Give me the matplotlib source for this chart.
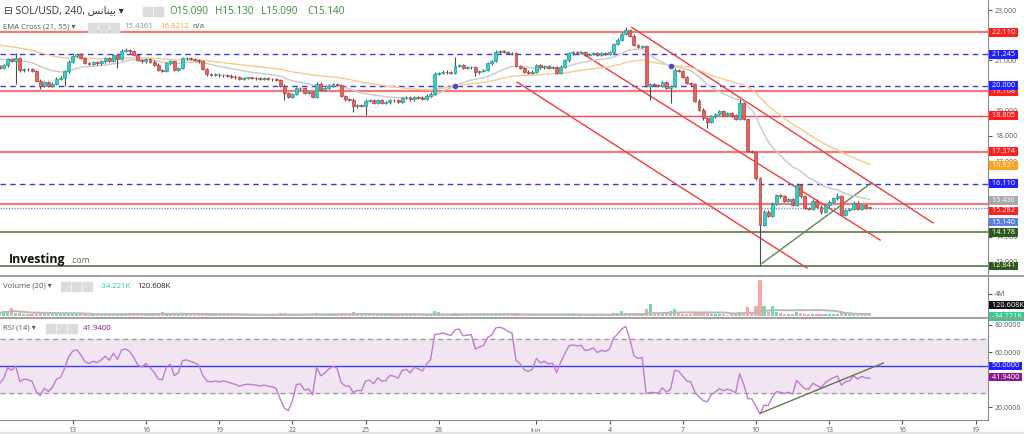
import numpy as np
import pandas as pd
import matplotlib
matplotlib.use('Agg')
import matplotlib.pyplot as plt
import matplotlib.transforms as mtransforms
from matplotlib.lines import Line2D
from matplotlib.patches import Rectangle

plt.rcParams['font.family'] = ['Open Sans', 'DejaVu Sans']

# 4h candles, May 10 00:00 -> Jun 14 16:00 (closes)
first_open = 20.76
closes = [
    20.70, 20.80, 21.05, 20.98, 21.08, 20.60, 20.66, 20.64, 20.58, 20.20,
    19.98, 20.14, 19.99, 20.08, 20.28, 20.32, 20.56, 20.95, 21.18, 21.24,
    21.10, 20.90, 20.85, 20.92, 20.88, 20.96, 21.08, 20.98, 21.20, 21.05,
    21.38, 21.42, 21.36, 21.22, 21.02, 20.96, 21.06, 20.95, 20.83, 20.62,
    20.58, 20.88, 20.98, 20.62, 20.70, 21.08, 21.10, 21.06, 21.02, 20.96,
    20.65, 20.45, 20.42, 20.44, 20.41, 20.43, 20.40, 20.36, 20.33, 20.28,
    20.30, 20.31, 20.30, 20.29, 20.27, 20.28, 20.26, 20.25, 20.22, 20.00,
    19.70, 19.55, 19.66, 19.89, 19.90, 19.72, 19.74, 19.56, 20.08, 19.83,
    19.90, 20.00, 20.06, 20.02, 19.58, 19.45, 19.44, 19.18, 19.22, 19.21,
    19.40, 19.42, 19.30, 19.42, 19.32, 19.33, 19.43, 19.41, 19.36, 19.50,
    19.52, 19.45, 19.55, 19.52, 19.48, 19.60, 19.68, 20.48, 20.50, 20.55,
    20.53, 20.51, 20.77, 20.80, 20.70, 20.72, 20.74, 20.52, 20.58, 20.62,
    20.88, 20.98, 21.32, 21.36, 21.34, 21.30, 21.28, 20.78, 20.70, 20.55,
    20.50, 20.55, 20.82, 20.72, 20.76, 20.70, 20.72, 20.50, 20.75, 21.00,
    21.28, 21.32, 21.30, 21.32, 21.22, 21.25, 21.30, 21.22, 21.28, 21.26,
    21.32, 21.66, 21.82, 22.06, 22.20, 21.98, 21.62, 21.55, 21.58, 20.00,
    20.05, 20.03, 20.00, 20.15, 19.90, 19.98, 20.62, 20.58, 20.35, 20.10,
    20.05, 19.40, 19.05, 18.70, 18.55, 18.78, 18.88, 18.98, 18.85, 18.90,
    18.82, 18.68, 19.30, 18.68, 17.40, 17.36, 16.32, 14.48, 15.00, 14.82,
    15.32, 15.66, 15.60, 15.43, 15.50, 15.26, 16.05, 15.60, 15.14, 15.10,
    15.44, 15.20, 14.98, 15.25, 15.40, 15.52, 15.62, 14.88, 15.06, 15.10,
    15.36, 15.12, 15.25, 15.15, 15.14,
]
# long wicks only; the other candles get a short default wick
wick_highs = {4: 21.28, 30: 21.45, 31: 21.50, 112: 21.15, 122: 21.40, 153: 22.12,
              154: 22.32, 166: 20.70, 182: 19.45, 196: 16.12, 206: 15.72}
wick_lows = {4: 20.06, 10: 19.88, 16: 20.00, 29: 20.70, 70: 19.42, 87: 18.96, 90: 18.83,
             117: 20.38, 160: 19.43, 165: 19.32, 174: 18.32, 187: 12.84, 202: 14.90, 207: 14.85}
# volume in millions
volumes = [
    0.5, 0.9, 0.8, 1.5, 0.6, 0.5, 0.3, 0.3, 0.3, 0.4, 0.5, 0.4,
    0.3, 0.3, 0.4, 0.3, 0.5, 0.6, 0.4, 0.3, 0.3, 0.3, 0.2, 0.3,
    0.2, 0.3, 0.4, 0.3, 0.4, 0.3, 0.5, 0.4, 0.3, 0.4, 0.5, 0.3,
    0.3, 0.3, 0.4, 0.5, 0.8, 0.5, 0.4, 0.3, 0.3, 0.5, 0.3, 0.2,
    0.2, 0.3, 0.4, 0.4, 0.2, 0.2, 0.2, 0.2, 0.2, 0.3, 0.2, 0.2,
    0.2, 0.2, 0.2, 0.2, 0.2, 0.2, 0.2, 0.2, 0.3, 0.5, 0.6, 0.4,
    0.3, 0.4, 0.3, 0.3, 0.2, 0.3, 0.5, 0.3, 0.2, 0.3, 0.3, 0.2,
    0.6, 0.4, 0.3, 0.8, 0.4, 0.3, 0.5, 0.3, 0.2, 0.3, 0.2, 0.2,
    0.2, 0.2, 0.2, 0.3, 0.2, 0.2, 0.3, 0.2, 0.2, 0.3, 0.3, 1.0,
    0.7, 0.3, 0.2, 0.2, 0.5, 0.3, 0.3, 0.2, 0.2, 0.4, 0.3, 0.2,
    0.3, 0.3, 0.5, 0.4, 0.3, 0.3, 0.2, 0.5, 0.3, 0.3, 0.3, 0.2,
    0.3, 0.2, 0.2, 0.2, 0.2, 0.3, 0.3, 0.3, 0.4, 0.3, 0.2, 0.2,
    0.2, 0.2, 0.2, 0.2, 0.2, 0.2, 0.3, 0.5, 0.5, 0.9, 0.6, 0.5,
    0.5, 0.4, 0.3, 1.2, 2.2, 0.6, 0.4, 0.4, 0.5, 1.0, 1.2, 0.5,
    0.4, 0.4, 0.3, 0.7, 0.6, 0.6, 0.5, 0.4, 0.3, 0.3, 0.3, 0.2,
    0.3, 0.3, 0.8, 0.6, 1.6, 0.7, 1.9, 6.6, 1.9, 0.8, 1.9, 0.7,
    0.5, 0.4, 0.3, 0.3, 0.8, 0.5, 0.4, 0.3, 0.3, 0.3, 0.4, 0.3,
    0.3, 0.3, 0.4, 1.0, 0.4, 0.3, 0.3, 0.2, 0.2, 0.2, 0.1,
]

ema_seed = {21: 21.10, 55: 21.64}
rsi_seed = (0.05, 0.08)

red_levels = [22.110, 19.768, 18.805, 17.374, 15.282]
blue_levels = [21.245, 20.000, 16.110]
green_levels = [14.178, 12.841]
last_price = 15.140
ema_last = (15.436, 16.821)
rsi_last = 41.94

# axis numbers that the level tags hide completely
price_ticks = [13, 14, 17, 18, 19, 21, 23]
price_ticks_hidden = [15, 16, 20, 22]

# drawn lines, (day of May, value)
channel_lines = [((35.91, 22.31), (48.26, 14.55)),
                 ((33.79, 21.33), (46.09, 13.87)),
                 ((31.21, 20.14), (43.09, 12.76))]
price_trend = ((41.25, 12.95), (45.75, 16.15))
rsi_trend = ((41.2, 15.6), (46.22, 52.2))

tick_days = [13, 16, 19, 22, 25, 28, 32, 35, 38, 41, 44, 47, 50]
tick_labels = ['13', '16', '19', '22', '25', '28', 'Jun', '4', '7', '10', '13', '16', '19']

BULL, BEAR = '#34cfc4', '#e8605a'
BULL_E, BEAR_E = '#1f9f96', '#b9433e'

n = len(closes)
t = 10 + np.arange(n) / 6
c = np.array(closes)
o = np.r_[first_open, c[:-1]]
up = c >= o


def ema(vals, span, seed):
    a = 2 / (span + 1)
    out, e = [], seed
    for v in vals:
        e = e + a * (v - e)
        out.append(e)
    return np.array(out)


ema21 = ema(c, 21, ema_seed[21])
ema55 = ema(c, 55, ema_seed[55])

ag, al = rsi_seed
rsi = []
prev = first_open
for v in c:
    d = v - prev
    ag = (ag * 13 + max(d, 0)) / 14
    al = (al * 13 + max(-d, 0)) / 14
    rsi.append(100 - 100 / (1 + ag / al))
    prev = v

W, H = 1024, 434
fig = plt.figure(figsize=(W / 100, H / 100), dpi=100)
fig.patch.set_facecolor('white')


def fy(y):
    return 1 - y / H


ax_p = fig.add_axes([0, fy(276), 988 / W, 276 / H])
ax_v = fig.add_axes([0, fy(318), 988 / W, 42 / H])
ax_r = fig.add_axes([0, fy(420), 988 / W, 102 / H])

for ax in (ax_p, ax_v, ax_r):
    ax.set_xlim(10.02, 50.51)
    for s in ('top', 'left', 'bottom'):
        ax.spines[s].set_visible(False)
    ax.spines['right'].set_color('#8a8a8a')
    ax.yaxis.tick_right()
    ax.tick_params(axis='y', labelsize=5, colors='#555555', length=3, pad=2, width=0.8)
    ax.set_facecolor('none')
ax_p.set_xticks([])
ax_v.set_xticks([])


def tag(ax, v, txt, fc, tc='white', clip=None, shift=0):
    # shift: pixels down, used where the chart stacks tags that would collide
    tr = mtransforms.blended_transform_factory(ax.transAxes, ax.transData)
    tr = tr + mtransforms.ScaledTranslation(0, -shift / 100, fig.dpi_scale_trans)
    tx = ax.text(1.002, v, ' ' + txt + ' ', transform=tr, fontsize=5.3, color=tc,
                 va='center', ha='left', clip_on=False, zorder=10,
                 bbox=dict(boxstyle='square,pad=0.12', fc=fc, ec='none'))
    if clip is not None:
        tx.set_clip_path(clip)
    return tx


# ---- price panel
ax_p.set_ylim(12.444, 23.397)
ax_p.set_yticks(price_ticks)
ax_p.set_yticklabels(['%.3f' % v for v in price_ticks])
ax_p.set_yticks(price_ticks_hidden, minor=True)
ax_p.tick_params(axis='y', which='minor', colors='#555555', length=3, width=0.8)

for v in red_levels:
    thick = v != 18.805
    ax_p.axhline(v, color='#f47a7a' if thick else '#ee4848', lw=1.6 if thick else 1.0, zorder=1)
for v in blue_levels:
    ax_p.axhline(v, color='#3838e8', lw=1.0, dashes=(4, 3), zorder=1)
for v in green_levels:
    ax_p.axhline(v, color='#4a6b3a', lw=1.1, zorder=1)
ax_p.axhline(last_price, color='#6f8ff0', lw=1.0, ls=(0, (1, 1)), zorder=1)

for (x0, y0), (x1, y1) in channel_lines:
    ax_p.plot([x0, x1], [y0, y1], color='#f03c3c', lw=1.0, zorder=2)
ax_p.plot([price_trend[0][0], price_trend[1][0]], [price_trend[0][1], price_trend[1][1]],
          color='#5f8a4f', lw=1.0, zorder=2)

ax_p.plot(t, ema21, color='#c9c9c9', lw=1.0, zorder=3)
ax_p.plot(t, ema55, color='#fbc88c', lw=1.0, zorder=3)
diff = np.sign(ema21 - ema55)
cross = np.where(diff[1:] != diff[:-1])[0] + 1
ax_p.plot(t[cross], (ema21[cross] + ema55[cross]) / 2, 'o', ms=3, color='#4a4ac8', zorder=4)

hi = np.maximum(o, c) + 0.05
lo = np.minimum(o, c) - 0.05
for i, v in wick_highs.items():
    hi[i] = v
for i, v in wick_lows.items():
    lo[i] = v
ax_p.vlines(t, lo, hi, color='#4d4d4d', lw=0.8, zorder=4)
body = np.maximum(np.abs(c - o), 0.025)
ax_p.bar(t, body, bottom=np.minimum(o, c), width=0.12,
         color=np.where(up, BULL, BEAR), edgecolor=np.where(up, BULL_E, BEAR_E),
         linewidth=0.5, zorder=5)

for v in red_levels:
    tag(ax_p, v, '%.3f' % v, '#ff1f1f', shift=6.5 if v == 15.282 else 0)
for v in blue_levels:
    tag(ax_p, v, '%.3f' % v, '#1f1fff')
for v in green_levels:
    tag(ax_p, v, '%.3f' % v, '#2f5a1d')
tag(ax_p, ema_last[1], '%.3f' % ema_last[1], '#ffa31a')
tag(ax_p, ema_last[0], '%.3f' % ema_last[0], '#a8a8a8')
tag(ax_p, last_price, '%.3f' % last_price, '#5a7ee6', shift=14)

# ---- volume panel
ax_v.set_ylim(-0.36, 7.27)
ax_v.bar(t, volumes, width=0.13, color=np.where(up, '#74d9b0', '#f7a8a6'), zorder=2)
vol_ma = pd.Series(volumes).rolling(20, min_periods=1).mean()
ax_v.plot(t, vol_ma, color='#b8b8b8', lw=1.4, zorder=3)
ax_v.set_yticks([4])
ax_v.set_yticklabels(['4M'])
vclip = Rectangle((0, fy(318)), 1, 42 / H, transform=fig.transFigure, fill=False)
tag(ax_v, 2.0, '120.608K', '#111111')
tag(ax_v, -0.1, '-34.221K', '#2ecf86', clip=vclip)

# ---- rsi panel
ax_r.set_ylim(10.5, 85.1)
ax_r.axhspan(30, 70, color='#f2e5f2', zorder=0)
ax_r.axhline(70, color='#9a9a9a', lw=0.9, dashes=(4, 3))
ax_r.axhline(30, color='#9a9a9a', lw=0.9, dashes=(4, 3))
ax_r.axhline(50, color='#3a3aff', lw=1.0)
ax_r.plot(t, rsi, color='#c07ad0', lw=1.0, zorder=3)
ax_r.plot([rsi_trend[0][0], rsi_trend[1][0]], [rsi_trend[0][1], rsi_trend[1][1]],
          color='#5f7a4f', lw=1.0, zorder=4)
ax_r.set_yticks([20, 60, 80])
ax_r.set_yticklabels(['%.4f' % v for v in (20, 60, 80)])
ax_r.set_yticks([40], minor=True)
ax_r.tick_params(axis='y', which='minor', colors='#555555', length=3, width=0.8)
tag(ax_r, 50, '50.0000', '#1f1fff')
tag(ax_r, rsi_last, '%.4f' % rsi_last, '#8c1a8c')
ax_r.spines['bottom'].set_visible(True)
ax_r.spines['bottom'].set_color('#8a8a8a')
ax_r.set_xticks(tick_days)
ax_r.set_xticklabels(tick_labels)
ax_r.tick_params(axis='x', labelsize=5, colors='#555555', length=3, pad=2, width=0.8)

# panel separators and frame
for yy in (276, 318):
    fig.add_artist(Line2D([0, 1], [fy(yy), fy(yy)], color='#9a9a9a', lw=1.3, transform=fig.transFigure))
fig.add_artist(Rectangle((0, 0), 1, 2.5 / H, transform=fig.transFigure, color='#e2e2e2'))

# ---- headers
arabic = '\uFEB2\uFEE7\uFE8E\uFEE8\uFEF4\uFE91'
fig.text(4 / W, fy(11), '\u229f SOL/USD, 240, ' + arabic + ' \u25be', fontsize=7.5, color='#333333', va='center')
fig.text(169 / W, fy(11), 'O15.090', fontsize=7.2, color='#3a8a3a', va='center')
fig.text(215 / W, fy(11), 'H15.130', fontsize=7.2, color='#3a8a3a', va='center')
fig.text(261 / W, fy(11), 'L15.090', fontsize=7.2, color='#3a8a3a', va='center')
fig.text(307 / W, fy(11), 'C15.140', fontsize=7.2, color='#3a8a3a', va='center')
fig.text(3 / W, fy(27), 'EMA Cross (21, 55) \u25be', fontsize=5.6, color='#555555', va='center')
fig.text(124 / W, fy(27), '15.4361', fontsize=5.6, color='#8a8a8a', va='center')
fig.text(160 / W, fy(27), '16.8212', fontsize=5.6, color='#ffa31a', va='center')
fig.text(192 / W, fy(27), 'n/a', fontsize=5.6, color='#555555', va='center')
fig.text(3 / W, fy(286), 'Volume (20) \u25be', fontsize=5.6, color='#555555', va='center')
fig.text(100 / W, fy(286), '-34.221K', fontsize=5.6, color='#2ecf86', va='center')
fig.text(137 / W, fy(286), '120.608K', fontsize=5.6, color='#222222', va='center')
fig.text(3 / W, fy(328), 'RSI (14) \u25be', fontsize=5.6, color='#555555', va='center')
fig.text(83 / W, fy(328), '41.9400', fontsize=5.6, color='#8c1a8c', va='center')

icons = [(143, 11, 2), (88, 27, 3), (61, 286, 3), (46, 328, 3)]
for x0, yc, k in icons:
    for j in range(k):
        fig.add_artist(Rectangle(((x0 + j * 11) / W, fy(yc + 4.5)), 9 / W, 9 / H,
                                 transform=fig.transFigure, color='#dcdcdc'))

fig.text(9 / W, fy(263), 'Investing', fontsize=8.8, fontweight='bold', color='#111111', va='baseline')
fig.text(70 / W, fy(263), '.com', fontsize=6.2, color='#666666', va='baseline')

fig.savefig('out.png', dpi=100)
